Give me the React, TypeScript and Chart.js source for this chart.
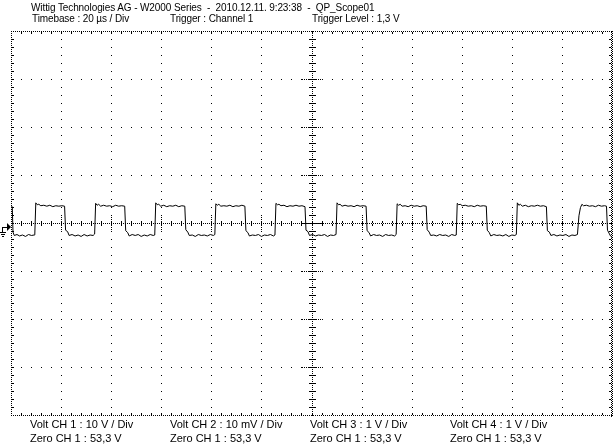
import React, { useEffect, useRef } from "react";
import { Chart, registerables } from "chart.js";

Chart.register(...registerables);

// ---- data ----
const traceTimeUs: number[] = [
  0, 0.5, 0.8, 1.3, 2.4, 3.4, 4.6, 5.8, 7.0, 8.2, 9.2, 9.5,
  9.9, 10.5, 11.1, 11.9, 13.1, 14.3, 15.5, 16.7, 17.9, 19.1, 20.3, 21.4,
  21.8, 22.6, 23.2, 24.4, 25.6, 26.8, 28.0, 29.2, 30.4, 31.6, 32.8, 33.4,
  33.8, 34.4, 35.0, 35.8, 37.0, 38.2, 39.4, 40.6, 41.8, 43.0, 44.2, 45.4,
  45.8, 46.6, 47.2, 48.4, 49.6, 50.8, 52.0, 53.2, 54.4, 55.6, 56.8, 57.4,
  57.8, 58.4, 59.0, 59.8, 61.0, 62.2, 63.4, 64.6, 65.8, 67.0, 68.2, 69.4,
  69.8, 70.6, 71.2, 72.4, 73.6, 74.8, 76.0, 77.2, 78.4, 79.6, 80.8, 81.4,
  81.8, 82.4, 83.0, 83.8, 85.0, 86.2, 87.4, 88.6, 89.8, 91.0, 92.2, 93.4,
  93.8, 94.6, 95.2, 96.4, 97.6, 98.8, 100.0, 101.2, 102.4, 103.6, 104.8, 105.4,
  105.8, 106.4, 107.0, 107.8, 109.0, 110.2, 111.4, 112.6, 113.8, 115.0, 116.2, 117.4,
  117.8, 118.6, 119.2, 120.4, 121.6, 122.8, 124.0, 125.2, 126.4, 127.6, 128.8, 129.8,
  130.2, 130.8, 131.4, 132.2, 133.4, 134.6, 135.8, 137.0, 138.2, 139.4, 140.6, 141.8,
  142.2, 143.0, 143.6, 144.8, 146.0, 147.2, 148.4, 149.6, 150.8, 152.0, 153.2, 153.8,
  154.2, 154.8, 155.4, 156.2, 157.4, 158.6, 159.8, 161.0, 162.2, 163.4, 164.6, 165.8,
  166.2, 167.0, 167.6, 168.8, 170.0, 171.2, 172.4, 173.6, 174.8, 176.0, 177.2, 177.8,
  178.2, 178.8, 179.4, 180.2, 181.4, 182.6, 183.8, 185.0, 186.2, 187.4, 188.6, 189.8,
  190.2, 191.0, 191.6, 192.8, 194.0, 195.2, 196.4, 197.6, 198.8, 200.0, 201.2, 201.8,
  202.2, 202.8, 203.4, 204.2, 205.4, 206.6, 207.8, 209.0, 210.2, 211.4, 212.6, 213.8,
  214.2, 215.0, 215.6, 216.8, 218.0, 219.2, 220.4, 221.6, 222.8, 224.0, 225.2, 226.2,
  226.8, 227.4, 228.0, 228.6, 229.8, 231.0, 232.2, 233.4, 234.6, 235.8, 237.0, 237.8,
  238.2, 238.8, 239.4, 240,
];

const traceVolt: number[] = [
  3.3, 3.4, -1.9, -2.6, -2.4, -2.7, -2.5, -2.8, -2.4, -2.6, -2.5, -2.4,
  4.2, 3.8, 3.9, 3.6, 3.7, 3.5, 3.7, 3.4, 3.6, 3.5, 3.6, 3.5,
  -1.5, -1.8, -2.6, -2.4, -2.7, -2.5, -2.8, -2.4, -2.7, -2.5, -2.6, -2.3,
  4.1, 3.7, 3.9, 3.5, 3.7, 3.5, 3.6, 3.4, 3.7, 3.5, 3.6, 3.5,
  -1.6, -2.0, -2.7, -2.4, -2.6, -2.4, -2.8, -2.5, -2.7, -2.4, -2.6, -2.5,
  4.2, 3.8, 3.9, 3.5, 3.7, 3.4, 3.6, 3.5, 3.7, 3.4, 3.6, 3.5,
  -1.4, -1.9, -2.6, -2.5, -2.8, -2.4, -2.6, -2.5, -2.7, -2.4, -2.6, -2.4,
  4.0, 3.7, 3.9, 3.5, 3.6, 3.5, 3.7, 3.4, 3.6, 3.5, 3.7, 3.5,
  -1.6, -2.0, -2.7, -2.5, -2.6, -2.4, -2.8, -2.5, -2.6, -2.4, -2.7, -2.5,
  4.1, 3.8, 3.9, 3.6, 3.7, 3.4, 3.6, 3.5, 3.7, 3.5, 3.6, 3.4,
  -1.5, -1.8, -2.6, -2.4, -2.7, -2.5, -2.6, -2.4, -2.8, -2.5, -2.6, -2.4,
  4.2, 3.8, 3.9, 3.5, 3.7, 3.5, 3.6, 3.4, 3.7, 3.5, 3.6, 3.5,
  -1.6, -2.0, -2.7, -2.4, -2.6, -2.5, -2.8, -2.4, -2.6, -2.5, -2.7, -2.4,
  4.0, 3.7, 3.9, 3.5, 3.6, 3.4, 3.7, 3.5, 3.6, 3.4, 3.6, 3.5,
  -1.4, -1.9, -2.6, -2.5, -2.7, -2.4, -2.6, -2.5, -2.8, -2.4, -2.6, -2.5,
  4.1, 3.8, 3.9, 3.6, 3.7, 3.5, 3.6, 3.4, 3.7, 3.5, 3.6, 3.5,
  -1.5, -2.0, -2.7, -2.4, -2.6, -2.5, -2.7, -2.4, -2.8, -2.5, -2.6, -2.4,
  4.2, 3.7, 3.9, 3.5, 3.7, 3.4, 3.6, 3.5, 3.7, 3.5, 3.6, 3.4,
  -1.6, -1.9, -2.6, -2.4, -2.7, -2.5, -2.6, -2.4, -2.8, -2.5, -2.6, -2.4,
  1.5, 3.2, 3.9, 3.6, 3.7, 3.5, 3.6, 3.4, 3.7, 3.5, 3.6, 3.5,
  -1.5, -2.1, -2.7, -3.0,
];

const xDivisionsUs: number[] = [0, 20, 40, 60, 80, 100, 120, 140, 160, 180, 200, 220, 240];
const yDivisionsV: number[] = [-40, -30, -20, -10, 0, 10, 20, 30, 40];
const xMinorStepUs = 4;
const yMinorStepV = 10 / 6;
const groundLevelV = -0.8;

const headerLine1 = "Wittig Technologies AG - W2000 Series  -  2010.12.11. 9:23:38  -  QP_Scope01";
const headerLine2: string[] = ["Timebase : 20 µs / Div", "Trigger : Channel 1", "Trigger Level : 1,3 V"];
const footerVolt: string[] = ["Volt CH 1 : 10 V / Div", "Volt CH 2 : 10 mV / Div", "Volt CH 3 : 1 V / Div", "Volt CH 4 : 1 V / Div"];
const footerZero: string[] = ["Zero CH 1 : 53,3 V", "Zero CH 1 : 53,3 V", "Zero CH 1 : 53,3 V", "Zero CH 1 : 53,3 V"];

const W = 614;
const H = 447;
const columnsX = [30, 170, 310, 450];

const scopeGrid = {
  id: "scopeGrid",
  beforeDatasetsDraw(chart: any) {
    const { ctx, scales } = chart;
    const xs = scales.x;
    const ys = scales.y;
    const X = (v: number) => Math.round(xs.getPixelForValue(v));
    const Y = (v: number) => Math.round(ys.getPixelForValue(v));
    const dot = (px: number, py: number) => ctx.fillRect(px, py, 1, 1);
    const xMin = xDivisionsUs[0];
    const xMax = xDivisionsUs[xDivisionsUs.length - 1];
    const yMin = yDivisionsV[0];
    const yMax = yDivisionsV[yDivisionsV.length - 1];
    const xMid = xDivisionsUs[(xDivisionsUs.length - 1) / 2];
    const yMid = yDivisionsV[(yDivisionsV.length - 1) / 2];
    const left = X(xMin);
    const right = X(xMax);
    const top = Y(yMax);
    const bottom = Y(yMin);
    const nxMinor = Math.round((xMax - xMin) / xMinorStepUs);
    const nyMinor = Math.round((yMax - yMin) / yMinorStepV);

    ctx.save();
    ctx.fillStyle = "#000";

    xDivisionsUs.forEach((xv) => {
      if (xv === xMin || xv === xMax || xv === xMid) return;
      const px = X(xv);
      for (let k = 1; k < nyMinor; k++) dot(px, Y(yMin + k * yMinorStepV));
    });
    yDivisionsV.forEach((yv) => {
      if (yv === yMin || yv === yMax || yv === yMid) return;
      const py = Y(yv);
      for (let k = 1; k < nxMinor; k++) dot(X(xMin + k * xMinorStepUs), py);
    });

    const cx = X(xMid);
    for (let py = top; py <= bottom; py += 2) dot(cx, py);
    for (let k = 1; k < nyMinor; k++) {
      const py = Y(yMin + k * yMinorStepV);
      const w = k % 6 === 0 ? 10 : 3;
      for (let d = -w; d <= w; d += 1) if (d !== 0 && (Math.abs(d) <= 3 || d % 2 === 0)) dot(cx + d, py);
    }
    const cy = Y(yMid);
    for (let px = left; px <= right; px += 2) dot(px, cy);
    for (let k = 1; k < nxMinor; k++) {
      const px = X(xMin + k * xMinorStepUs);
      const h = k % 5 === 0 ? 6 : 2;
      for (let d = -h; d <= h; d += 1) if (d !== 0 && (Math.abs(d) <= 2 || d % 2 === 0)) dot(px, cy + d);
    }

    for (let px = left; px <= right; px += 2) {
      dot(px, top);
      dot(px, bottom);
    }
    for (let py = top; py <= bottom; py += 2) {
      dot(left, py);
      dot(right, py);
      dot(right - 1, py + 1);
    }
    for (let k = 1; k < nxMinor; k++) {
      const px = X(xMin + k * xMinorStepUs);
      dot(px, top + 1);
      dot(px, top + 2);
      dot(px, bottom - 1);
      dot(px, bottom - 2);
    }
    for (let k = 1; k < nyMinor; k++) {
      const py = Y(yMin + k * yMinorStepV);
      dot(left + 1, py);
      dot(left + 2, py);
      dot(right - 2, py);
      dot(right - 3, py);
    }
    ctx.restore();
  },
  afterDraw(chart: any) {
    const { ctx, scales } = chart;
    const py = Math.round(scales.y.getPixelForValue(groundLevelV));
    ctx.save();
    ctx.fillStyle = "#000";
    ctx.beginPath();
    ctx.moveTo(7, py - 4);
    ctx.lineTo(11, py);
    ctx.lineTo(7, py + 4);
    ctx.closePath();
    ctx.fill();
    ctx.fillRect(2, py, 6, 1);
    ctx.fillRect(2, py, 1, 5);
    ctx.fillRect(0, py + 5, 6, 1);
    ctx.fillRect(1, py + 7, 4, 1);
    ctx.fillRect(2, py + 9, 2, 1);
    ctx.restore();
  },
};

const textStyle: React.CSSProperties = {
  position: "absolute",
  fontFamily: "'Liberation Sans', Arial, sans-serif",
  fontSize: "11px",
  lineHeight: "11px",
  whiteSpace: "pre",
  color: "#000",
};

const headerStyle: React.CSSProperties = {
  ...textStyle,
  fontSize: "10px",
  lineHeight: "10px",
  letterSpacing: "-0.1px",
};

export default function App() {
  const canvasRef = useRef<HTMLCanvasElement | null>(null);

  useEffect(() => {
    const canvas = canvasRef.current;
    if (!canvas) return;
    const chart = new Chart(canvas, {
      type: "line",
      data: {
        datasets: [
          {
            data: traceTimeUs.map((t, i) => ({ x: t, y: traceVolt[i] })),
            borderColor: "#000",
            borderWidth: 1,
            pointRadius: 0,
            tension: 0,
            fill: false,
          },
        ],
      },
      options: {
        animation: false,
        responsive: false,
        devicePixelRatio: 1,
        events: [],
        layout: { padding: { left: 11, right: 2, top: 31, bottom: 32 } },
        plugins: { legend: { display: false }, tooltip: { enabled: false } },
        scales: {
          x: { type: "linear", min: 0, max: 240, display: false },
          y: { type: "linear", min: -40, max: 40, display: false },
        },
      },
      plugins: [scopeGrid],
    });
    return () => chart.destroy();
  }, []);

  return (
    <div style={{ position: "fixed", left: 0, top: 0, width: W, height: H, background: "#fff", overflow: "hidden" }}>
      <canvas ref={canvasRef} width={W} height={H} style={{ position: "absolute", left: 0, top: 0, width: W, height: H }} />
      <div style={{ ...headerStyle, left: 31, top: 3 }}>{headerLine1}</div>
      {headerLine2.map((s, i) => (
        <div key={"h" + i} style={{ ...headerStyle, left: columnsX[i] + (i === 0 ? 2 : i === 2 ? 2 : 0), top: 14 }}>{s}</div>
      ))}
      {footerVolt.map((s, i) => (
        <div key={"v" + i} style={{ ...textStyle, left: columnsX[i], top: 419 }}>{s}</div>
      ))}
      {footerZero.map((s, i) => (
        <div key={"z" + i} style={{ ...textStyle, left: columnsX[i], top: 433 }}>{s}</div>
      ))}
    </div>
  );
}
